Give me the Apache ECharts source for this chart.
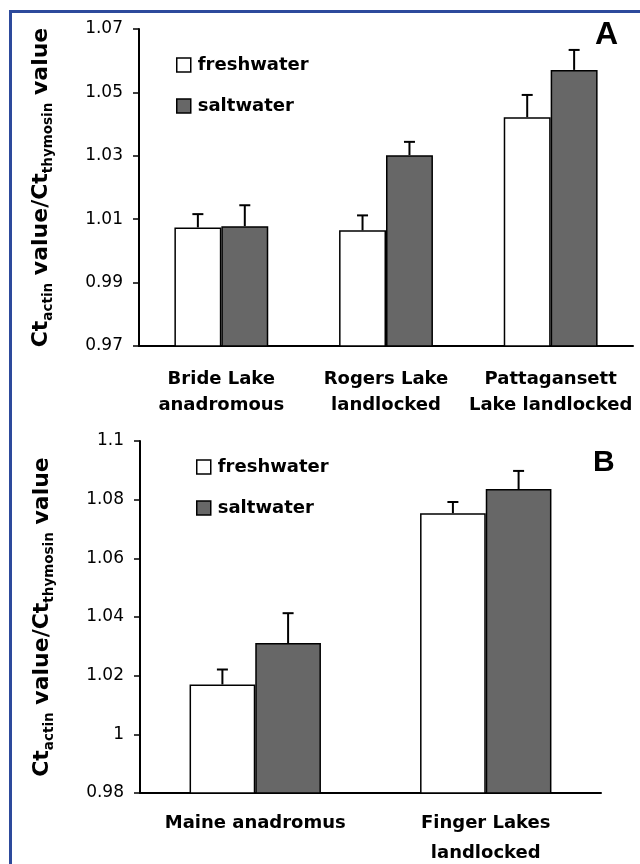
<!DOCTYPE html>
<html>
<head>
<meta charset="utf-8">
<script src="https://cdn.jsdelivr.net/npm/echarts@6/dist/echarts.min.js"></script>
<style>
html,body{margin:0;padding:0;background:#fff;}
#c{width:640px;height:864px;}
</style>
</head>
<body>
<div id="c"></div>
<script>
// Panel A data
var categoriesA = ['Bride Lake\nanadromous', 'Rogers Lake\nlandlocked', 'Pattagansett\nLake landlocked'];
var freshA = [1.0074, 1.0065, 1.0422];
var freshAErr = [0.0042, 0.0047, 0.0070];
var saltA = [1.0078, 1.0302, 1.0571];
var saltAErr = [0.0066, 0.0042, 0.0063];
var ticksA = {min: 0.97, max: 1.07, interval: 0.02};

// Panel B data
var categoriesB = ['Maine anadromus', 'Finger Lakes\nlandlocked'];
var freshB = [1.0170, 1.0754];
var freshBErr = [0.0051, 0.0038];
var saltB = [1.0311, 1.0836];
var saltBErr = [0.0102, 0.0062];
var ticksB = {min: 0.98, max: 1.1, interval: 0.02};

var seriesNames = ['freshwater', 'saltwater'];

var FONT = 'DejaVu Sans';
var GAP = 0.43;

function errData(vals, errs, side) {
  return vals.map(function (v, i) { return [i, v, errs[i], side]; });
}

function errSeries(data, axisIdx) {
  return {
    type: 'custom',
    xAxisIndex: axisIdx, yAxisIndex: axisIdx,
    silent: true,
    z: 5,
    data: data,
    renderItem: function (params, api) {
      var ci = api.value(0), v = api.value(1), e = api.value(2), side = api.value(3);
      var band = api.size([1, 0])[0];
      var w = band * (1 - GAP) / 2;
      var c = api.coord([ci, v]);
      var t = api.coord([ci, v + e]);
      var x = c[0] + (side === 0 ? -w / 2 : w / 2);
      var cap = 5.5;
      return {
        type: 'group',
        children: [
          {type: 'line', shape: {x1: x, y1: c[1], x2: x, y2: t[1]}, style: {stroke: '#000', lineWidth: 2}},
          {type: 'line', shape: {x1: x - cap, y1: t[1], x2: x + cap, y2: t[1]}, style: {stroke: '#000', lineWidth: 2}}
        ]
      };
    }
  };
}

function barSeries(name, data, color, axisIdx) {
  return {
    name: name, type: 'bar',
    xAxisIndex: axisIdx, yAxisIndex: axisIdx,
    data: data,
    barGap: '0%', barCategoryGap: (GAP * 100) + '%',
    itemStyle: {color: color, borderColor: '#000', borderWidth: 1.5},
    z: 3
  };
}

function fmt(v) { return String(parseFloat(v.toFixed(2))); }

var titleName = '{m|Ct}{s|actin}{m| value/Ct}{s|thymosin}{m| value}';
var titleRich = {
  m: {fontSize: 22, fontWeight: 'bold', fontFamily: FONT, color: '#000', lineHeight: 28},
  s: {fontSize: 13.5, fontWeight: 'bold', fontFamily: FONT, color: '#000', lineHeight: 14, verticalAlign: 'bottom'}
};

function yAxis(t, idx, fixed) {
  return {
    type: 'value', gridIndex: idx,
    min: t.min, max: t.max, interval: t.interval,
    name: titleName, nameLocation: 'middle', nameRotate: 90, nameGap: 84,
    nameTextStyle: {rich: titleRich},
    axisLine: {show: true, lineStyle: {color: '#000', width: 2}},
    axisTick: {show: true, length: 6, lineStyle: {color: '#000', width: 1.5}},
    splitLine: {show: false},
    axisLabel: {
      formatter: function (v) { return fixed ? v.toFixed(2) : fmt(v); },
      fontFamily: FONT, fontSize: 17, color: '#000', margin: 16
    }
  };
}

function xAxis(cats, idx, lh, margin) {
  return {
    type: 'category', gridIndex: idx, data: cats,
    axisLine: {show: true, lineStyle: {color: '#000', width: 2}},
    axisTick: {show: false},
    axisLabel: {interval: 0, fontFamily: FONT, fontSize: 18, fontWeight: 'bold', color: '#000', lineHeight: lh, margin: margin}
  };
}

var legendCommon = {
  orient: 'vertical', itemWidth: 14, itemHeight: 14, itemGap: 23,
  padding: 0,
  icon: 'rect',
  textStyle: {fontFamily: FONT, fontSize: 18, fontWeight: 'bold', color: '#000', padding: [0, 0, 0, 2]},
  itemStyle: {borderColor: '#000', borderWidth: 1.5},
  data: seriesNames,
  selectedMode: false
};

var chart = echarts.init(document.getElementById('c'), null, {renderer: 'canvas'});
chart.setOption({
  backgroundColor: '#fff',
  animation: false,
  grid: [
    {left: 139, top: 29, width: 494, height: 317, containLabel: false, outerBoundsMode: 'none'},
    {left: 140, top: 441, width: 461, height: 352, containLabel: false, outerBoundsMode: 'none'}
  ],
  xAxis: [xAxis(categoriesA, 0, 26, 20), xAxis(categoriesB, 1, 30, 15)],
  yAxis: [yAxis(ticksA, 0, true), yAxis(ticksB, 1, false)],
  legend: [
    Object.assign({}, legendCommon, {left: 176, top: 56}),
    Object.assign({}, legendCommon, {left: 196, top: 458})
  ],
  series: [
    barSeries(seriesNames[0], freshA, '#ffffff', 0),
    barSeries(seriesNames[1], saltA, '#676767', 0),
    errSeries(errData(freshA, freshAErr, 0), 0),
    errSeries(errData(saltA, saltAErr, 1), 0),
    barSeries(seriesNames[0], freshB, '#ffffff', 1),
    barSeries(seriesNames[1], saltB, '#676767', 1),
    errSeries(errData(freshB, freshBErr, 0), 1),
    errSeries(errData(saltB, saltBErr, 1), 1)
  ],
  graphic: [
    {type: 'line', shape: {x1: 10.5, y1: 10, x2: 10.5, y2: 864}, style: {stroke: '#2d4a9c', lineWidth: 3}},
    {type: 'line', shape: {x1: 9, y1: 11.5, x2: 640, y2: 11.5}, style: {stroke: '#2d4a9c', lineWidth: 3}},
    {type: 'text', left: 595, top: 19, style: {text: 'A', fontFamily: 'Liberation Sans', fontWeight: 'bold', fontSize: 32, fill: '#000'}},
    {type: 'text', left: 593, top: 448, style: {text: 'B', fontFamily: 'Liberation Sans', fontWeight: 'bold', fontSize: 30, fill: '#000'}}
  ]
});
</script>
</body>
</html>
